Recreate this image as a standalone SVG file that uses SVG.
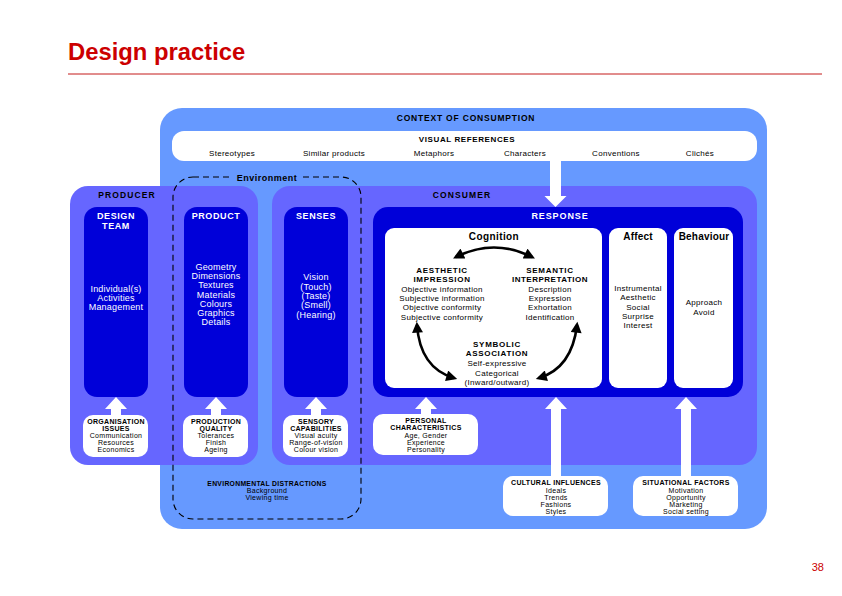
<svg xmlns="http://www.w3.org/2000/svg" width="842" height="596" viewBox="0 0 842 596">
<defs>
<style>
text{font-family:"Liberation Sans",Arial,Helvetica,sans-serif;text-anchor:middle;fill:#000}
.lb{fill:#6699FF}
.mb{fill:#6666FF}
.db{fill:#0000D9}
.wh{fill:#FFFFFF}
.hd{font-weight:bold;font-size:8px;letter-spacing:0.7px}
.it{font-size:8px;letter-spacing:0.3px}
.ci{font-size:9px;letter-spacing:0.2px;fill:#fff}
.ch{font-weight:bold;font-size:9px;letter-spacing:0.6px;fill:#fff}
.bh{font-weight:bold;font-size:7px;letter-spacing:0.3px}
.bi{font-size:7px;letter-spacing:0.3px}
.cap{font-weight:bold;font-size:10px;letter-spacing:0.2px}
.warr{fill:#FFFFFF}
.carc{fill:none;stroke:#000;stroke-width:2.6;marker-start:url(#ah);marker-end:url(#ah)}
</style>
<marker id="ah" viewBox="0 0 10 10" refX="7" refY="5" markerWidth="12" markerHeight="11" markerUnits="userSpaceOnUse" orient="auto-start-reverse">
<path d="M0,0 L10,5 L0,10 z" fill="#000"/>
</marker>
</defs>

<g id="title">
<text x="68" y="60" style="text-anchor:start;font-size:23.8px;font-weight:bold;fill:#CC0000">Design practice</text>
<line x1="68" y1="74" x2="822" y2="74" stroke="#C41A1A" stroke-width="1"/>
<text x="824" y="571" style="text-anchor:end;font-size:11px;fill:#CC0000">38</text>
</g>

<g id="context">
<rect x="160" y="108" width="607" height="421" rx="22" class="lb"/>
<text x="466" y="121" class="hd" style="font-size:8.5px;letter-spacing:0.8px">CONTEXT OF CONSUMPTION</text>
</g>

<g id="visual-references">
<rect x="172" y="131" width="585" height="30" rx="12" class="wh"/>
<text x="467" y="142" class="hd" style="letter-spacing:0.6px">VISUAL REFERENCES</text>
<text x="232" y="156" class="it">Stereotypes</text>
<text x="334" y="156" class="it">Similar products</text>
<text x="434" y="156" class="it">Metaphors</text>
<text x="525" y="156" class="it">Characters</text>
<text x="616" y="156" class="it">Conventions</text>
<text x="700" y="156" class="it">Clichés</text>
</g>

<g id="producer">
<rect x="70" y="186" width="188" height="279" rx="18" class="mb"/>
<text x="127" y="198" class="hd" style="font-size:8.5px;letter-spacing:1.1px">PRODUCER</text>
</g>

<g id="consumer">
<rect x="272" y="186" width="485" height="279" rx="18" class="mb"/>
<text x="462" y="198" class="hd" style="font-size:8.5px;letter-spacing:1.1px">CONSUMER</text>
</g>

<g id="design-team">
<rect x="84" y="207" width="64" height="190" rx="13" class="db"/>
<text x="116" y="219" class="ch">DESIGN</text>
<text x="116" y="229" class="ch">TEAM</text>
<text x="116" y="292" class="ci">Individual(s)</text>
<text x="116" y="301" class="ci">Activities</text>
<text x="116" y="310" class="ci">Management</text>
</g>

<g id="product">
<rect x="184" y="207" width="64" height="190" rx="13" class="db"/>
<text x="216" y="219" class="ch">PRODUCT</text>
<text x="216" y="270" class="ci">Geometry</text>
<text x="216" y="279" class="ci">Dimensions</text>
<text x="216" y="288" class="ci">Textures</text>
<text x="216" y="298" class="ci">Materials</text>
<text x="216" y="307" class="ci">Colours</text>
<text x="216" y="316" class="ci">Graphics</text>
<text x="216" y="325" class="ci">Details</text>
</g>

<g id="senses">
<rect x="284" y="207" width="64" height="190" rx="13" class="db"/>
<text x="316" y="219" class="ch">SENSES</text>
<text x="316" y="280" class="ci">Vision</text>
<text x="316" y="290" class="ci">(Touch)</text>
<text x="316" y="299" class="ci">(Taste)</text>
<text x="316" y="308" class="ci">(Smell)</text>
<text x="316" y="318" class="ci">(Hearing)</text>
</g>

<g id="response">
<rect x="373" y="207" width="370" height="190" rx="15" class="db"/>
<text x="560" y="219" class="ch" style="letter-spacing:0.9px">RESPONSE</text>
</g>

<g id="cognition">
<rect x="385" y="228" width="217" height="160" rx="9" class="wh"/>
<text x="494" y="240" class="cap" style="letter-spacing:0.4px">Cognition</text>
<text x="442" y="273" class="hd">AESTHETIC</text>
<text x="442" y="282" class="hd">IMPRESSION</text>
<text x="442" y="292" class="it">Objective information</text>
<text x="442" y="301" class="it">Subjective information</text>
<text x="442" y="310" class="it">Objective conformity</text>
<text x="442" y="320" class="it">Subjective conformity</text>
<text x="550" y="273" class="hd">SEMANTIC</text>
<text x="550" y="282" class="hd" style="letter-spacing:0.5px">INTERPRETATION</text>
<text x="550" y="292" class="it">Description</text>
<text x="550" y="301" class="it">Expression</text>
<text x="550" y="310" class="it">Exhortation</text>
<text x="550" y="320" class="it">Identification</text>
<text x="497" y="347" class="hd">SYMBOLIC</text>
<text x="497" y="356" class="hd">ASSOCIATION</text>
<text x="497" y="366" class="it">Self-expressive</text>
<text x="497" y="376" class="it">Categorical</text>
<text x="497" y="385" class="it">(Inward/outward)</text>
</g>

<g id="affect">
<rect x="609" y="228" width="58" height="160" rx="9" class="wh"/>
<text x="638" y="240" class="cap">Affect</text>
<text x="638" y="291" class="it">Instrumental</text>
<text x="638" y="300" class="it">Aesthetic</text>
<text x="638" y="310" class="it">Social</text>
<text x="638" y="319" class="it">Surprise</text>
<text x="638" y="328" class="it">Interest</text>
</g>

<g id="behaviour">
<rect x="674" y="228" width="59" height="160" rx="9" class="wh"/>
<text x="704" y="240" class="cap">Behaviour</text>
<text x="704" y="305" class="it">Approach</text>
<text x="704" y="315" class="it">Avoid</text>
</g>

<g id="organisation-issues">
<rect x="83" y="415" width="65" height="42" rx="10" class="wh"/>
<text x="116" y="423.5" class="bh">ORGANISATION</text>
<text x="116" y="431" class="bh">ISSUES</text>
<text x="116" y="438" class="bi">Communication</text>
<text x="116" y="445" class="bi">Resources</text>
<text x="116" y="452" class="bi">Economics</text>
</g>

<g id="production-quality">
<rect x="183" y="415" width="65" height="42" rx="10" class="wh"/>
<text x="216" y="423.5" class="bh">PRODUCTION</text>
<text x="216" y="431" class="bh">QUALITY</text>
<text x="216" y="438" class="bi">Tolerances</text>
<text x="216" y="445" class="bi">Finish</text>
<text x="216" y="452" class="bi">Ageing</text>
</g>

<g id="sensory-capabilities">
<rect x="283" y="415" width="65" height="42" rx="10" class="wh"/>
<text x="316" y="423.5" class="bh">SENSORY</text>
<text x="316" y="431" class="bh">CAPABILITIES</text>
<text x="316" y="438" class="bi">Visual acuity</text>
<text x="316" y="445" class="bi">Range-of-vision</text>
<text x="316" y="452" class="bi">Colour vision</text>
</g>

<g id="personal-characteristics">
<rect x="373" y="414" width="105" height="41" rx="10" class="wh"/>
<text x="426" y="422.5" class="bh">PERSONAL</text>
<text x="426" y="430" class="bh">CHARACTERISTICS</text>
<text x="426" y="437.5" class="bi">Age, Gender</text>
<text x="426" y="444.5" class="bi">Experience</text>
<text x="426" y="451.5" class="bi">Personality</text>
</g>

<g id="environmental-distractions">
<text x="267" y="485.5" class="bh" style="font-size:6.8px">ENVIRONMENTAL DISTRACTIONS</text>
<text x="267" y="492.5" class="bi">Background</text>
<text x="267" y="499.5" class="bi">Viewing time</text>
</g>

<g id="cultural-influences">
<rect x="503" y="476" width="105" height="40" rx="10" class="wh"/>
<text x="556" y="484.5" class="bh">CULTURAL INFLUENCES</text>
<text x="556" y="492.5" class="bi">Ideals</text>
<text x="556" y="499.5" class="bi">Trends</text>
<text x="556" y="506.5" class="bi">Fashions</text>
<text x="556" y="514" class="bi">Styles</text>
</g>

<g id="situational-factors">
<rect x="633" y="476" width="105" height="40" rx="10" class="wh"/>
<text x="686" y="484.5" class="bh">SITUATIONAL FACTORS</text>
<text x="686" y="492.5" class="bi">Motivation</text>
<text x="686" y="499.5" class="bi">Opportunity</text>
<text x="686" y="506.5" class="bi">Marketing</text>
<text x="686" y="514" class="bi">Social setting</text>
</g>

<g id="environment">
<rect x="173" y="177" width="188" height="342" rx="20" fill="none" stroke="#000" stroke-width="1.1" stroke-dasharray="6,4"/>
<rect x="231" y="172" width="72" height="10" class="lb"/>
<text x="267" y="180.5" style="font-weight:bold;font-size:9px;letter-spacing:0.5px">Environment</text>
</g>

<g id="connectors">
<path class="warr" d="M550,160 L550,196 L544.5,196 L555.5,207 L566.5,196 L561,196 L561,160 Z"/>
<path class="warr" d="M111,416 L111,409 L105,409 L116,397 L127,409 L121,409 L121,416 Z"/>
<path class="warr" d="M211,416 L211,409 L205,409 L216,397 L227,409 L221,409 L221,416 Z"/>
<path class="warr" d="M311,416 L311,409 L305,409 L316,397 L327,409 L321,409 L321,416 Z"/>
<path class="warr" d="M421,415 L421,409 L415,409 L426,397 L437,409 L431,409 L431,415 Z"/>
<path class="warr" d="M551,477 L551,409 L545,409 L556,397 L567,409 L561,409 L561,477 Z"/>
<path class="warr" d="M681,477 L681,409 L675,409 L686,397 L697,409 L691,409 L691,477 Z"/>
<path class="carc" d="M456,257 Q494,238 532,257"/>
<path class="carc" d="M417,325 Q420,368 454,378"/>
<path class="carc" d="M577,325 Q572,368 539,378"/>
</g>
</svg>
